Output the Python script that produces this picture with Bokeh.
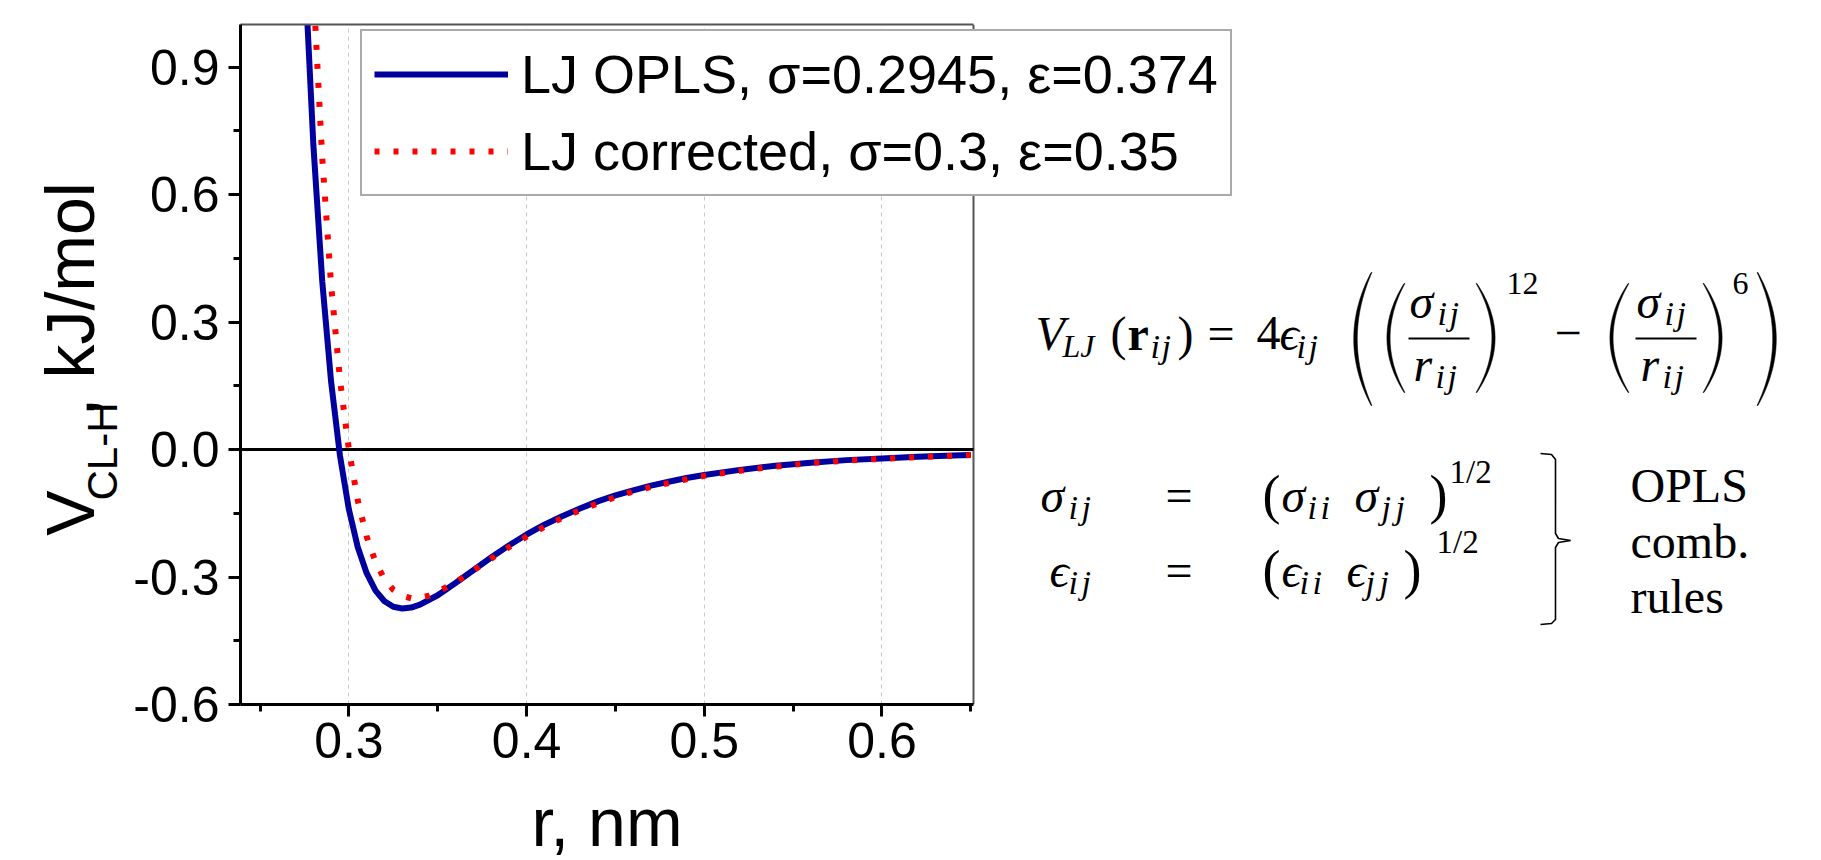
import math
import numpy as np
from bokeh.plotting import figure
from bokeh.models import (Range1d, LinearAxis, FixedTicker, NumeralTickFormatter,
                          Legend, LegendItem, ColumnDataSource)
from bokeh.layouts import row, column
from bokeh.core.properties import value, field
from bokeh.embed import file_html
from bokeh.resources import INLINE

# ---- data: Lennard-Jones Cl-H pair potential, kJ/mol vs r in nm ----
r_opls = [0.275, 0.28, 0.285, 0.29, 0.295, 0.30, 0.305, 0.31, 0.315, 0.32, 0.325, 0.33,
          0.335, 0.34, 0.35, 0.36, 0.37, 0.38, 0.39, 0.40, 0.41, 0.42, 0.43, 0.44, 0.45,
          0.46, 0.47, 0.48, 0.49, 0.50, 0.52, 0.54, 0.56, 0.58, 0.60, 0.62, 0.64, 0.65]
v_opls = [1.147, 0.717, 0.396, 0.159, -0.015, -0.141, -0.230, -0.291, -0.332, -0.357,
          -0.370, -0.374, -0.372, -0.365, -0.343, -0.314, -0.284, -0.254, -0.226, -0.200,
          -0.177, -0.157, -0.139, -0.122, -0.108, -0.096, -0.085, -0.076, -0.067, -0.060,
          -0.048, -0.038, -0.031, -0.025, -0.021, -0.017, -0.014, -0.013]

r_corr = [0.28, 0.285, 0.29, 0.295, 0.30, 0.305, 0.31, 0.315, 0.32, 0.325, 0.33, 0.335,
          0.34, 0.345, 0.35, 0.36, 0.37, 0.38, 0.39, 0.40, 0.41, 0.42, 0.43, 0.44, 0.45,
          0.46, 0.47, 0.48, 0.49, 0.50, 0.52, 0.54, 0.56, 0.58, 0.60, 0.62, 0.64, 0.65]
v_corr = [1.086, 0.686, 0.387, 0.164, 0.000, -0.120, -0.205, -0.265, -0.305, -0.330,
          -0.344, -0.350, -0.349, -0.344, -0.335, -0.312, -0.285, -0.257, -0.230, -0.205,
          -0.182, -0.161, -0.143, -0.127, -0.112, -0.099, -0.088, -0.079, -0.070, -0.062,
          -0.050, -0.040, -0.032, -0.026, -0.022, -0.018, -0.015, -0.013]

label_opls = "LJ OPLS, σ=0.2945, ε=0.374"
label_corr = "LJ corrected, σ=0.3, ε=0.35"

x_major_ticks = [0.3, 0.4, 0.5, 0.6]
x_minor_ticks = [0.25, 0.35, 0.45, 0.55, 0.65]
y_major_ticks = [-0.6, -0.3, 0.0, 0.3, 0.6, 0.9]
y_minor_ticks = [-0.45, -0.15, 0.15, 0.45, 0.75]

X_START, X_END = 0.239, 0.6515
Y_START, Y_END = -0.6, 1.0

# ---- page geometry (pixels) ----
PAGE_W, PAGE_H = 1821, 860
LABEL_COL_W = 128          # strip holding the rotated y label
MAIN_H = 782               # height of the chart canvas; the r-label strip sits below
CH_LEFT, CH_RIGHT, CH_TOP, CH_BOTTOM = 240, 973, 24, 704

SANS = "Liberation Sans"
SERIF = "Liberation Serif"
MID = 0.36                 # distance baseline -> vertical text centre, in em

# the plotting frame runs on to the right page edge so that the legend and the
# formula panel can live inside it; the axes are bounded to the data interval
px_per_r = (CH_RIGHT - CH_LEFT) / (X_END - X_START)
x_range = Range1d(X_START, X_START + (PAGE_W - CH_LEFT) / px_per_r)
y_range = Range1d(Y_START, Y_END)

p = figure(width=PAGE_W - LABEL_COL_W, height=MAIN_H, x_range=x_range, y_range=y_range,
           output_backend="svg", toolbar_location=None, title=None,
           min_border_left=CH_LEFT - LABEL_COL_W, min_border_right=0,
           min_border_top=CH_TOP, min_border_bottom=MAIN_H - CH_BOTTOM)
p.outline_line_color = None
p.background_fill_color = "white"
p.border_fill_color = "white"

# page-pixel coordinate system for the formula panel
p.extra_x_ranges = {"px": Range1d(CH_LEFT, PAGE_W)}
p.extra_y_ranges = {"py": Range1d(MAIN_H - CH_BOTTOM, MAIN_H - CH_TOP)}


def py(y):
    return MAIN_H - y


xax = p.xaxis[0]
xax.ticker = FixedTicker(ticks=x_major_ticks, minor_ticks=x_minor_ticks)
xax.bounds = (X_START, X_END)
xax.major_label_standoff = 6
yax = p.yaxis[0]
yax.ticker = FixedTicker(ticks=y_major_ticks, minor_ticks=y_minor_ticks)
yax.major_label_standoff = 9
for ax in (xax, yax):
    ax.formatter = NumeralTickFormatter(format="0.0")
    ax.axis_line_width = 3
    ax.axis_line_color = "black"
    ax.major_tick_line_width = 3
    ax.minor_tick_line_width = 3
    ax.major_tick_out = 12
    ax.major_tick_in = 0
    ax.minor_tick_out = 7
    ax.minor_tick_in = 0
    ax.major_label_text_font = SANS
    ax.major_label_text_font_size = "50px"
    ax.major_label_text_color = "black"

top = LinearAxis(ticker=FixedTicker(ticks=[]), bounds=(X_START, X_END),
                 axis_line_color="#555555", axis_line_width=2,
                 major_label_text_font_size="0px")
p.add_layout(top, "above")

p.xgrid.ticker = FixedTicker(ticks=x_major_ticks)
p.xgrid.grid_line_color = "#c8c8c8"
p.xgrid.grid_line_dash = "4 4"
p.xgrid.grid_line_width = 1
p.ygrid.visible = False

# right edge of the data box and the zero line
p.segment(x0=[X_END], y0=[Y_START], x1=[X_END], y1=[Y_END],
          line_color="#555555", line_width=2)
p.segment(x0=[X_START], y0=[0], x1=[X_END], y1=[0], line_color="black", line_width=3)

blue = p.line(r_opls, v_opls, line_color="#00009f", line_width=6)
red = p.line(r_corr, v_corr, line_color="#ff0000", line_width=6, line_dash="5 14")

legend = Legend(items=[LegendItem(label=label_opls, renderers=[blue]),
                       LegendItem(label=label_corr, renderers=[red])],
                location=(360 - CH_LEFT, 508), margin=0, padding=12, spacing=15,
                glyph_width=134, glyph_height=60, label_height=60, label_standoff=13,
                label_text_font=SANS, label_text_font_size="54px",
                label_text_color="black",
                border_line_color="#555555", border_line_width=2,
                background_fill_color="white", background_fill_alpha=1.0)
p.add_layout(legend)

# ---- formula panel: LJ potential and OPLS combination rules ----
# text, x, baseline y, size (px), style; two-letter index pairs are given as
# (letters, x of first, x of second) so that they keep math-italic spacing
eq = [
    ("V", 1035, 350, 48, "italic"),
    ("LJ", 1062, 357, 32, "italic"),
    ("(", 1110, 350, 48, "normal"),
    ("r", 1127, 350, 48, "bold"),
    (("ij", 1150, 1161), None, 358, 34, "italic"),
    (")", 1177, 350, 48, "normal"),
    ("=", 1207, 350, 48, "normal"),
    ("4", 1256, 350, 48, "normal"),
    ("ϵ", 1279, 350, 48, "italic"),
    (("ij", 1296, 1308), None, 358, 34, "italic"),
    ("σ", 1409, 318, 48, "italic"),
    (("ij", 1437, 1449), None, 325, 34, "italic"),
    ("r", 1413, 381, 48, "italic"),
    (("ij", 1435, 1447), None, 388, 34, "italic"),
    ("12", 1506, 295, 32, "normal"),
    ("−", 1554, 350, 48, "normal"),
    ("σ", 1636, 318, 48, "italic"),
    (("ij", 1664, 1676), None, 325, 34, "italic"),
    ("r", 1640, 381, 48, "italic"),
    (("ij", 1662, 1674), None, 388, 34, "italic"),
    ("6", 1732, 295, 32, "normal"),
    # combination rules
    ("σ", 1040, 512, 48, "italic"),
    (("ij", 1068, 1081), None, 519, 34, "italic"),
    ("=", 1165, 512, 48, "normal"),
    ("(", 1262, 514, 54, "normal"),
    ("σ", 1281, 512, 48, "italic"),
    (("ii", 1307, 1320), None, 519, 34, "italic"),
    ("σ", 1354, 512, 48, "italic"),
    (("jj", 1381, 1395), None, 519, 34, "italic"),
    (")", 1429, 514, 54, "normal"),
    ("1/2", 1449, 483, 33, "normal"),
    ("ϵ", 1049, 587, 48, "italic"),
    (("ij", 1068, 1081), None, 594, 34, "italic"),
    ("=", 1165, 587, 48, "normal"),
    ("(", 1262, 589, 54, "normal"),
    ("ϵ", 1281, 587, 48, "italic"),
    (("ii", 1299, 1312), None, 594, 34, "italic"),
    ("ϵ", 1346, 587, 48, "italic"),
    (("jj", 1365, 1379), None, 594, 34, "italic"),
    (")", 1403, 589, 54, "normal"),
    ("1/2", 1436, 553, 33, "normal"),
    # note
    ("OPLS", 1630, 502, 48, "normal"),
    ("comb.", 1630, 558, 48, "normal"),
    ("rules", 1630, 613, 48, "normal"),
]
cols = dict(text=[], x=[], y=[], size=[], style=[])
for t, x, yb, size, style in eq:
    pieces = [(t[0][0], t[1]), (t[0][1], t[2])] if isinstance(t, tuple) else [(t, x)]
    for s, xs in pieces:
        cols["text"].append(s)
        cols["x"].append(xs)
        cols["y"].append(py(yb - MID * size))
        cols["size"].append("%dpx" % size)
        cols["style"].append(style)
eq_src = ColumnDataSource(cols)
p.text(x="x", y="y", text="text", source=eq_src, text_font=value(SERIF),
       text_font_size=field("size"), text_font_style=field("style"),
       text_align="left", text_baseline="middle", text_color="black",
       x_range_name="px", y_range_name="py")

# fraction bars
p.segment(x0=[1408, 1635], x1=[1469, 1696], y0=[py(338)] * 2, y1=[py(338)] * 2,
          line_color="black", line_width=2, x_range_name="px", y_range_name="py")


def paren(x_tip, x_mid, y_top, y_bot, t_mid, t_end=0.9, n=48):
    s = np.linspace(-1.0, 1.0, n)
    yc, h = (y_top + y_bot) / 2, (y_bot - y_top) / 2
    ys = yc + s * h
    bow = 1 - s ** 2
    xc = x_tip + (x_mid - x_tip) * bow
    th = t_end + (t_mid - t_end) * bow
    xs = np.concatenate([xc - th / 2, (xc + th / 2)[::-1]])
    yy = np.concatenate([ys, ys[::-1]])
    return list(xs), [py(v) for v in yy]


delims = [
    paren(1371, 1355, 272, 405, 3.6),
    paren(1404, 1388, 283, 392, 3.2),
    paren(1476, 1493, 283, 392, 3.2),
    paren(1628, 1611, 283, 392, 3.2),
    paren(1703, 1720, 283, 392, 3.2),
    paren(1757, 1774, 272, 405, 3.6),
]
p.patches(xs=[d[0] for d in delims], ys=[d[1] for d in delims], fill_color="black",
          line_color="black", line_width=0.5, x_range_name="px", y_range_name="py")

# right brace grouping the two rules
brace_x = [[1540, 1551, 1555, 1555, 1558, 1570], [1570, 1558, 1555, 1555, 1551, 1540]]
brace_y = [[453, 454, 459, 533, 538, 540], [540, 542, 547, 619, 623, 624]]
p.multi_line(xs=brace_x, ys=[[py(v) for v in b] for b in brace_y], line_color="black",
             line_width=1.6, x_range_name="px", y_range_name="py")

# ---- rotated y label with subscript (pieces anchored at their centres) ----
ql = figure(width=LABEL_COL_W, height=MAIN_H, x_range=Range1d(0, LABEL_COL_W),
            y_range=Range1d(0, MAIN_H), x_axis_location=None, y_axis_location=None,
            output_backend="svg", toolbar_location=None, title=None, min_border=0)
ql.outline_line_color = None
ql.grid.visible = False
ylab = ColumnDataSource(dict(text=["V", "CL-H", ", kJ/mol"],
                             x=[93 - 0.35 * 68, 117 - 0.35 * 42, 93 - 0.35 * 68],
                             y=[py(562), py(491), py(316)],
                             size=["68px", "42px", "68px"]))
ql.text(x="x", y="y", text="text", source=ylab, angle=math.pi / 2,
        text_font=value(SANS), text_font_size=field("size"), text_align="center",
        text_baseline="middle", text_color="black")

# ---- x label strip ----
xl = figure(width=PAGE_W, height=PAGE_H - MAIN_H, x_range=Range1d(0, PAGE_W),
            y_range=Range1d(0, PAGE_H - MAIN_H), x_axis_location=None,
            y_axis_location=None, output_backend="svg", toolbar_location=None,
            title=None, min_border=0)
xl.outline_line_color = None
xl.grid.visible = False
xl.text(x=[(CH_LEFT + CH_RIGHT) / 2], y=[PAGE_H - (845 - 0.35 * 68)], text=["r, nm"],
        text_font=value(SANS), text_font_size="68px", text_align="center",
        text_baseline="middle", text_color="black")

layout = column(row(ql, p), xl)
open("out.html", "w").write(file_html(layout, INLINE))
